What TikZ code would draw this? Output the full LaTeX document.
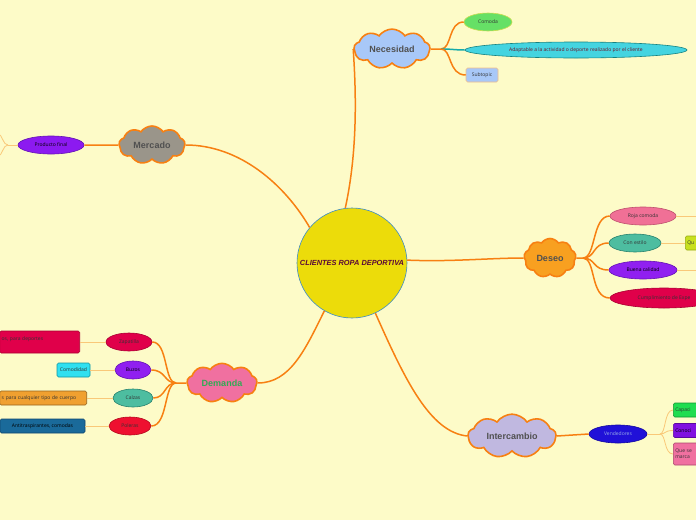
\documentclass[tikz,border=0pt]{standalone}
\usepackage{fontspec}
\setmainfont{Liberation Sans}
\newfontfamily\smallfont{Open Sans}
\usetikzlibrary{shapes.geometric,shapes.symbols}
\definecolor{bg}{RGB}{253,251,200}
\definecolor{mainor}{RGB}{247,128,18}
\definecolor{lightor}{RGB}{249,200,120}
\definecolor{cloudtxt}{RGB}{80,80,80}
\tikzset{
  cloudnode/.style={cloud, cloud puffs=9, cloud puff arc=110, draw=mainor, line width=1.6pt,
    font=\bfseries\fontsize{9}{10}\selectfont, text=cloudtxt, inner sep=0pt},
  leaf/.style={ellipse, draw, line width=0.6pt, inner sep=0pt, minimum height=18pt,
    font=\smallfont\fontsize{5}{6}\selectfont, text=black!80},
  boxn/.style={rectangle, rounded corners=1.5pt, draw, line width=0.6pt, inner sep=2pt,
    minimum height=14pt, font=\smallfont\fontsize{5}{6}\selectfont, text=black!80},
  mainline/.style={draw=mainor, line width=1.5pt},
  thinline/.style={draw=lightor, line width=0.8pt},
}
\begin{document}
\begin{tikzpicture}[x=1pt,y=-1pt]
\path[use as bounding box, fill=bg] (0,0) rectangle (696,520);
\clip (0,0) rectangle (696,520);

% central
\node[circle, draw={rgb,255:red,60;green,140;blue,200}, line width=0.6pt, fill={rgb,255:red,236;green,220;blue,10},
  minimum size=110pt, inner sep=0pt, font=\bfseries\itshape\fontsize{7.4}{8}\selectfont,
  text={rgb,255:red,90;green,8;blue,56}] (c) at (352,263) {CLIENTES ROPA DEPORTIVA};

% clouds
\node[cloudnode, fill={rgb,255:red,168;green,200;blue,248}, minimum width=76pt, minimum height=36pt, aspect=2.1] (nec) at (392,49) {Necesidad};
\node[cloudnode, fill={rgb,255:red,154;green,149;blue,138}, minimum width=66pt, minimum height=38pt, aspect=1.75] (mer) at (152,145) {Mercado};
\node[cloudnode, fill={rgb,255:red,248;green,160;blue,32}, minimum width=52pt, minimum height=39pt, aspect=1.35] (des) at (550,258) {Deseo};
\node[cloudnode, fill={rgb,255:red,240;green,112;blue,160}, minimum width=70pt, minimum height=38pt, aspect=1.85, text={rgb,255:red,50;green,170;blue,85}] (dem) at (222,383) {Demanda};
\node[cloudnode, fill={rgb,255:red,192;green,184;blue,224}, minimum width=88pt, minimum height=40pt, aspect=2.2] (int) at (512,436) {Intercambio};

% Necesidad children
\node[leaf, fill={rgb,255:red,102;green,224;blue,102}, draw={rgb,255:red,200;green,220;blue,80}, minimum width=48pt] (com) at (488,22) {Comoda};
\node[leaf, fill={rgb,255:red,68;green,212;blue,224}, draw={rgb,255:red,20;green,130;blue,130}, minimum width=222pt, minimum height=16pt, text={rgb,255:red,110;green,20;blue,40}] (ada) at (576,50) {Adaptable a la actividad o deporte realizado por el cliente};
\node[boxn, fill={rgb,255:red,168;green,200;blue,248}, draw={rgb,255:red,240;green,190;blue,140}, minimum width=32pt] (sub) at (482,75) {Subtopic};

% Mercado child
\node[leaf, fill={rgb,255:red,140;green,26;blue,240}, draw={rgb,255:red,100;green,20;blue,180}, minimum width=66pt, text=black] (pro) at (51,145) {Producto final};
\coordinate (proj) at (8,145);
\coordinate (pro1) at (-2,133);
\coordinate (pro2) at (-2,157);

% Deseo children
\node[leaf, fill={rgb,255:red,240;green,112;blue,150}, draw={rgb,255:red,190;green,80;blue,110}, minimum width=66pt] (roj) at (643,216) {Roja comoda};
\node[leaf, fill={rgb,255:red,77;green,189;blue,160}, draw={rgb,255:red,40;green,130;blue,110}, minimum width=52pt] (est) at (635,243) {Con estilo};
\node[leaf, fill={rgb,255:red,144;green,32;blue,240}, draw={rgb,255:red,100;green,20;blue,180}, minimum width=68pt, text=black] (bue) at (643,270) {Buena calidad};
\node[leaf, fill={rgb,255:red,224;green,0;blue,74}, draw={rgb,255:red,170;green,0;blue,50}, minimum width=108pt, minimum height=20pt] (cum) at (664,298) {Cumplimiento de Expe};
\node[boxn, fill={rgb,255:red,200;green,224;blue,32}, draw={rgb,255:red,150;green,170;blue,20}, anchor=west, text width=14pt, align=left] (qu) at (685,243) {Qu};
\coordinate (roje) at (697,216);
\coordinate (buee) at (697,270);

% Demanda children
\node[leaf, fill={rgb,255:red,224;green,0;blue,74}, draw={rgb,255:red,170;green,0;blue,50}, minimum width=46pt] (zap) at (129,342) {Zapatilla};
\node[leaf, fill={rgb,255:red,144;green,32;blue,240}, draw={rgb,255:red,100;green,20;blue,180}, minimum width=36pt, text=black] (buz) at (133,370) {Buzos};
\node[leaf, fill={rgb,255:red,77;green,189;blue,160}, draw={rgb,255:red,40;green,130;blue,110}, minimum width=40pt] (cal) at (133,398) {Calzas};
\node[leaf, fill={rgb,255:red,238;green,16;blue,48}, draw={rgb,255:red,180;green,10;blue,30}, minimum width=42pt] (pol) at (130,426) {Poleras};

\node[boxn, fill={rgb,255:red,224;green,0;blue,74}, draw={rgb,255:red,170;green,0;blue,50}, anchor=east, text width=76pt, align=left, minimum height=22pt, text depth=7pt] (zapb) at (80,342) {os, para deportes};
\node[boxn, fill={rgb,255:red,48;green,224;blue,240}, draw={rgb,255:red,20;green,150;blue,160}, minimum width=33pt] (buzb) at (73.5,370) {Comodidad};
\node[boxn, fill={rgb,255:red,240;green,160;blue,48}, draw={rgb,255:red,150;green,100;blue,30}, anchor=east, text width=83pt, align=left] (calb) at (87,398) {s para cualquier tipo de cuerpo};
\node[boxn, fill={rgb,255:red,26;green,106;blue,154}, draw={rgb,255:red,15;green,70;blue,110}, minimum width=85pt, text=black] (polb) at (42.5,426) {Antitraspirantes, comodas};

% Intercambio children
\node[leaf, fill={rgb,255:red,32;green,16;blue,216}, draw={rgb,255:red,20;green,10;blue,160}, minimum width=58pt, text={rgb,255:red,150;green,170;blue,230}] (ven) at (618,434) {Vendedores};
\node[boxn, fill={rgb,255:red,32;green,221;blue,80}, draw={rgb,255:red,20;green,150;blue,50}, anchor=west, text width=30pt, align=left] (cap) at (673,410) {Capaci};
\node[boxn, fill={rgb,255:red,128;green,16;blue,224}, draw={rgb,255:red,90;green,10;blue,160}, anchor=west, text width=30pt, align=left, text=black] (con) at (673,430.5) {Conoci};
\node[boxn, fill={rgb,255:red,240;green,112;blue,160}, draw={rgb,255:red,170;green,70;blue,110}, anchor=west, text width=30pt, align=left, minimum height=22pt] (que) at (673,454) {Que se\\marca};

% main connectors from centre
\draw[mainline] (c.97) .. controls (358,150) and (356,90) .. (nec.west);
\draw[mainline] (c.140) .. controls (285,185) and (240,145) .. (mer.east);
\draw[mainline] (c.3) .. controls (450,262) and (490,258) .. (des.west);
\draw[mainline] (c.240) .. controls (305,350) and (290,383) .. (dem.east);
\draw[mainline] (c.-65) .. controls (405,380) and (430,432) .. (int.west);

% Necesidad branches
\coordinate (necj) at (441,49);
\draw[mainline] (nec.east) -- (necj);
\draw[mainline] (necj) .. controls (452,49) and (448,22) .. (com.west);
\draw[draw={rgb,255:red,20;green,170;blue,170}, line width=1.5pt] (necj) .. controls (452,49) and (455,50) .. (ada.west);
\draw[mainline] (necj) .. controls (452,49) and (448,75) .. (sub.west);

% Mercado
\draw[mainline] (mer.west) -- (pro.east);
\draw[thinline] (pro.west) -- (proj);
\draw[thinline] (proj) .. controls (3,145) and (3,136) .. (pro1);
\draw[thinline] (proj) .. controls (3,145) and (3,154) .. (pro2);

% Deseo
\coordinate (desj) at (583,258);
\draw[mainline] (des.east) -- (desj);
\draw[mainline] (desj) .. controls (596,258) and (592,216) .. (roj.west);
\draw[mainline] (desj) .. controls (596,258) and (592,243) .. (est.west);
\draw[mainline] (desj) .. controls (596,258) and (592,270) .. (bue.west);
\draw[mainline] (desj) .. controls (596,258) and (590,298) .. (cum.west);
\draw[thinline] (roj.east) -- (roje);
\draw[thinline] (est.east) -- (qu.west);
\draw[thinline] (bue.east) -- (buee);

% Demanda
\coordinate (demj) at (176,383);
\draw[mainline] (dem.west) -- (demj);
\draw[mainline] (demj) .. controls (164,383) and (168,342) .. (zap.east);
\draw[mainline] (demj) .. controls (164,383) and (166,370) .. (buz.east);
\draw[mainline] (demj) .. controls (164,383) and (166,398) .. (cal.east);
\draw[mainline] (demj) .. controls (164,383) and (168,426) .. (pol.east);
\draw[thinline] (zap.west) -- (zapb.east);
\draw[thinline] (buz.west) -- (buzb.east);
\draw[thinline] (cal.west) -- (calb.east);
\draw[thinline] (pol.west) -- (polb.east);

% Intercambio
\draw[mainline] (int.east) -- (ven.west);
\coordinate (venj) at (660,434);
\draw[thinline] (ven.east) -- (venj);
\draw[thinline] (venj) .. controls (666,434) and (664,410) .. (cap.west);
\draw[thinline] (venj) .. controls (666,434) and (664,430.5) .. (con.west);
\draw[thinline] (venj) .. controls (666,434) and (664,454) .. (que.west);
\end{tikzpicture}
\end{document}
